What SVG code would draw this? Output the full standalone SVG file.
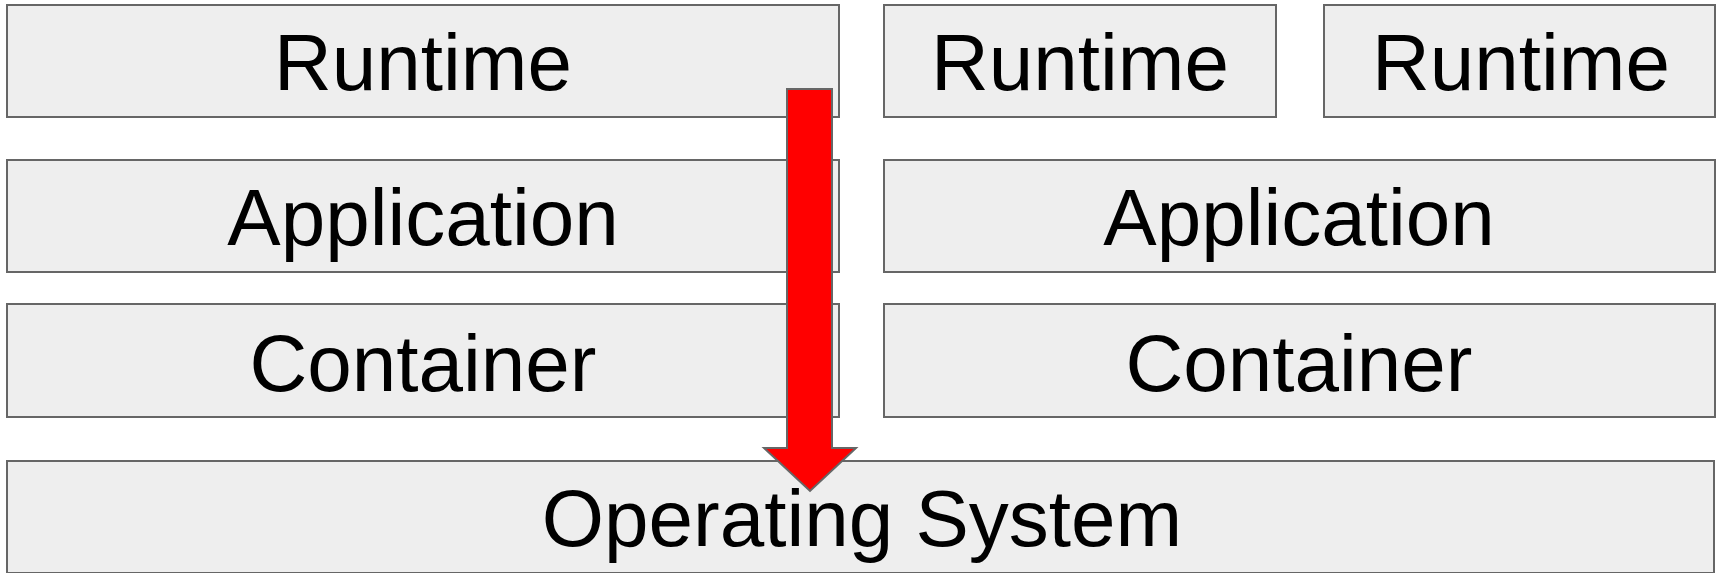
<svg xmlns="http://www.w3.org/2000/svg" width="1716" height="573" viewBox="0 0 1716 573">
  <style>
    .box { fill: #eeeeee; stroke: #666666; stroke-width: 2; }
    .lbl { font-family: "Liberation Sans", Arial, sans-serif; font-size: 80px; fill: #000000; text-anchor: middle; }
    .arrow { fill: #ff0000; stroke: #666666; stroke-width: 2; stroke-linejoin: miter; }
  </style>
  <rect width="1716" height="573" fill="#ffffff"/>

  <g id="runtime-1">
    <rect class="box" x="7" y="5" width="832" height="112"/>
    <text class="lbl" x="423" y="90">Runtime</text>
  </g>
  <g id="runtime-2">
    <rect class="box" x="884" y="5" width="392" height="112"/>
    <text class="lbl" x="1080" y="90">Runtime</text>
  </g>
  <g id="runtime-3">
    <rect class="box" x="1324" y="5" width="391" height="112"/>
    <text class="lbl" x="1521" y="90">Runtime</text>
  </g>

  <g id="application-1">
    <rect class="box" x="7" y="160" width="832" height="112"/>
    <text class="lbl" x="423" y="245">Application</text>
  </g>
  <g id="application-2">
    <rect class="box" x="884" y="160" width="831" height="112"/>
    <text class="lbl" x="1299" y="245">Application</text>
  </g>

  <g id="container-1">
    <rect class="box" x="7" y="304" width="832" height="113"/>
    <text class="lbl" x="423" y="391">Container</text>
  </g>
  <g id="container-2">
    <rect class="box" x="884" y="304" width="831" height="113"/>
    <text class="lbl" x="1299" y="391">Container</text>
  </g>

  <g id="operating-system">
    <rect class="box" x="7" y="461" width="1707" height="112"/>
    <text class="lbl" x="862" y="546">Operating System</text>
  </g>

  <g id="connectors">
    <path class="arrow" d="M787,89 H832 V448 H856 L810,491 L764,448 H787 Z"/>
  </g>
</svg>
